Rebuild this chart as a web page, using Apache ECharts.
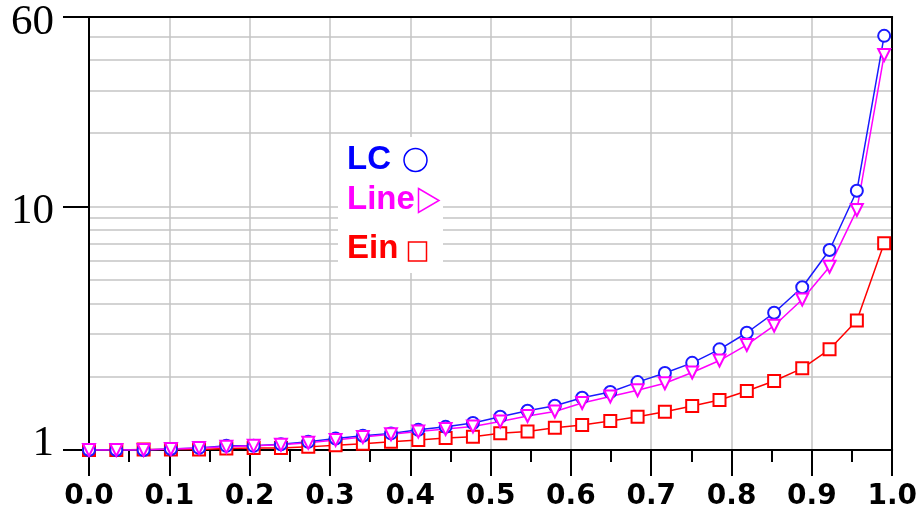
<!DOCTYPE html>
<html>
<head>
<meta charset="utf-8">
<script src="https://cdn.jsdelivr.net/npm/echarts@6/dist/echarts.min.js"></script>
<style>
html,body{margin:0;padding:0;background:#fff;}
#chart{width:920px;height:515px;}
</style>
</head>
<body>
<div id="chart"></div>
<script>
const xValues = [0, 0.034, 0.068, 0.102, 0.137, 0.171, 0.205, 0.239, 0.273, 0.307,
  0.341, 0.376, 0.410, 0.444, 0.478, 0.512, 0.546, 0.580, 0.614, 0.649,
  0.683, 0.717, 0.751, 0.785, 0.819, 0.853, 0.888, 0.922, 0.956, 0.990];
const lcValues = [1.0, 1.0, 1.0, 1.01, 1.02, 1.04, 1.04, 1.055, 1.08, 1.115,
  1.145, 1.17, 1.21, 1.245, 1.29, 1.37, 1.45, 1.52, 1.64, 1.73,
  1.90, 2.07, 2.28, 2.59, 3.03, 3.66, 4.66, 6.63, 11.6, 50.2];
const lineValues = [1.0, 1.0, 1.0, 1.01, 1.02, 1.03, 1.04, 1.05, 1.07, 1.10,
  1.13, 1.16, 1.19, 1.22, 1.25, 1.31, 1.38, 1.44, 1.56, 1.66,
  1.76, 1.88, 2.08, 2.33, 2.70, 3.24, 4.15, 5.66, 9.68, 41.9];
const einValues = [1.0, 1.0, 1.005, 1.005, 1.005, 1.015, 1.02, 1.02, 1.03, 1.045,
  1.06, 1.08, 1.10, 1.12, 1.134, 1.171, 1.19, 1.235, 1.267, 1.316,
  1.37, 1.436, 1.516, 1.604, 1.747, 1.92, 2.165, 2.59, 3.40, 7.06];
const yTickLabels = ['1', '10', '60'];
const yGridValues = [2, 3, 4, 5, 6, 7, 8, 9, 10, 20, 30, 40, 50];
const legendLabels = ['LC', 'Line', 'Ein'];

const pairs = (ys) => xValues.map((x, i) => [x, ys[i]]);

const BLUE = '#1a1aff', MAG = '#ff00ff', RED = '#ff0000';
const GRID = '#c4c4c4';
const LFONT = 'bold 33px "Liberation Sans"';

const chart = echarts.init(document.getElementById('chart'), null, {renderer: 'canvas'});
const option = {
  animation: false,
  backgroundColor: '#fff',
  grid: {left: 89, right: 27, top: 17, bottom: 65, containLabel: false},
  xAxis: [{
    type: 'value', min: 0, max: 1, interval: 0.1, z: 0,
    axisLine: {show: true, onZero: false, lineStyle: {color: '#000', width: 2}},
    axisTick: {show: true, length: 26, lineStyle: {color: '#000', width: 2}},
    minorTick: {show: true, splitNumber: 2, length: 12, lineStyle: {color: '#000', width: 2}},
    splitLine: {show: true, lineStyle: {color: GRID, width: 1.5}},
    axisLabel: {
      margin: 33, color: '#000', fontFamily: 'DejaVu Sans', fontWeight: 'bold', fontSize: 28,
      formatter: v => v.toFixed(1)
    }
  }, {
    type: 'value', position: 'top', min: 0, max: 1, z: 1,
    axisLine: {show: true, onZero: false, lineStyle: {color: '#000', width: 2}},
    axisTick: {show: false}, axisLabel: {show: false}, splitLine: {show: false}
  }],
  yAxis: [{
    type: 'log', logBase: 10, min: 1, max: 60, z: 1,
    axisLine: {show: true, onZero: false, lineStyle: {color: '#000', width: 2}},
    axisTick: {show: true, length: 26, lineStyle: {color: '#000', width: 2}},
    splitLine: {show: false},
    axisLabel: {show: false}
  }, {
    type: 'log', logBase: 10, min: 1, max: 60, position: 'right', z: 1,
    axisLine: {show: true, onZero: false, lineStyle: {color: '#000', width: 2}},
    axisTick: {show: false}, axisLabel: {show: false}, splitLine: {show: false}
  }],
  series: [{
    name: 'Ein', type: 'line', data: pairs(einValues),
    symbol: 'emptyRect', symbolSize: 12,
    lineStyle: {color: RED, width: 1.5},
    itemStyle: {color: RED, borderWidth: 1.5},
    markLine: {
      silent: true, z: 1, symbol: 'none', animation: false,
      label: {show: false},
      lineStyle: {color: GRID, width: 1.5, type: 'solid'},
      emphasis: {disabled: true},
      data: yGridValues.map(v => ({yAxis: v}))
    }
  }, {
    name: 'LC', type: 'line', data: pairs(lcValues),
    symbol: 'emptyCircle', symbolSize: 12,
    lineStyle: {color: BLUE, width: 1.5},
    itemStyle: {color: BLUE, borderWidth: 1.5}
  }, {
    name: 'Line', type: 'line', data: pairs(lineValues),
    symbol: 'emptyTriangle', symbolSize: 12, symbolRotate: 180,
    lineStyle: {color: MAG, width: 1.5},
    itemStyle: {color: MAG, borderWidth: 1.5}
  }]
};
chart.setOption(option);

// y tick labels placed at the axis scale positions (original draws them slightly off-centre)
const labelShift = {'1': -6, '10': 5.5, '60': 6};
const yLabelGraphics = yTickLabels.map(t => {
  const py = chart.convertToPixel({yAxisIndex: 0}, Number(t));
  return {type: 'text', z: 5, x: 54, y: py + labelShift[t],
    style: {text: t, fill: '#000', font: '43px "Liberation Serif"', align: 'right', verticalAlign: 'middle'}};
});

chart.setOption({
  graphic: [
    {type: 'rect', z: 20, shape: {x: 338, y: 137, width: 105, height: 136}, style: {fill: '#fff'}},
    {type: 'text', z: 21, x: 347, y: 160, style: {text: legendLabels[0], fill: '#0000ff', font: LFONT, verticalAlign: 'middle'}},
    {type: 'circle', z: 21, shape: {cx: 415.5, cy: 160, r: 11.5}, style: {fill: 'none', stroke: '#0000ff', lineWidth: 1.5}},
    {type: 'text', z: 21, x: 347, y: 200, style: {text: legendLabels[1], fill: MAG, font: LFONT, verticalAlign: 'middle'}},
    {type: 'polygon', z: 21, shape: {points: [[418.5, 188.5], [439, 200.5], [418.5, 212.5]]}, style: {fill: 'none', stroke: MAG, lineWidth: 1.5}},
    {type: 'text', z: 21, x: 347, y: 249, style: {text: legendLabels[2], fill: RED, font: LFONT, verticalAlign: 'middle'}},
    {type: 'rect', z: 21, shape: {x: 408.5, y: 242, width: 18, height: 19}, style: {fill: 'none', stroke: RED, lineWidth: 1.5}}
  ].concat(yLabelGraphics)
});
</script>
</body>
</html>
